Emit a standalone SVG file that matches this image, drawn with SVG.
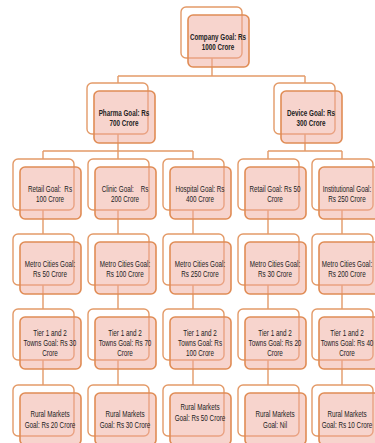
<svg xmlns="http://www.w3.org/2000/svg" width="375" height="443" viewBox="0 0 375 443">
  <style>
    .back { fill: #ffffff; stroke: #E39A68; stroke-width: 1.4; }
    .front { fill: #F0A99C; fill-opacity: 0.5; stroke: #E08C55; stroke-width: 1.6; }
    .link { fill: none; stroke: #E39A68; stroke-width: 1.4; }
    text { font-family: "Liberation Sans", Arial, sans-serif; font-size: 8.4px; fill: #222222; text-anchor: middle;
           transform-box: fill-box; transform-origin: center; transform: scaleX(0.75); }
    .b { font-weight: bold; }
  </style>
  <defs>
    <g id="card">
      <rect class="back" x="0" y="0" width="61" height="51" rx="5"/>
      <rect class="front" x="7" y="8" width="61" height="52" rx="5"/>
    </g>
  </defs>

  <!-- connectors -->
  <g id="connectors">
    <path class="link" d="M212 58V76M118 76H305M118 76V83M305 76V83"/>
    <path class="link" d="M118 134V151M43 151H193M43 151V159M118 151V159M193 151V159"/>
    <path class="link" d="M305 134V151M268 151H342M268 151V159M342 151V159"/>
    <path class="link" d="M43 210V234M43 285V309M43 360V385"/>
    <path class="link" d="M118 210V234M118 285V309M118 360V385"/>
    <path class="link" d="M193 210V234M193 285V309M193 360V385"/>
    <path class="link" d="M268 210V234M268 285V309M268 360V385"/>
    <path class="link" d="M342 210V234M342 285V309M342 360V385"/>
  </g>

  <!-- level 0 -->
  <g id="company"><use href="#card" x="181" y="7"/>
    <text class="b" x="218" y="40.5">Company Goal: Rs</text><text class="b" x="218" y="50.5">1000 Crore</text></g>

  <!-- level 1 -->
  <g id="pharma"><use href="#card" x="87" y="83"/>
    <text class="b" x="124" y="116.5">Pharma Goal: Rs</text><text class="b" x="124" y="126.5">700 Crore</text></g>
  <g id="device"><use href="#card" x="274" y="83"/>
    <text class="b" x="311" y="116.5">Device Goal: Rs</text><text class="b" x="311" y="126.5">300 Crore</text></g>

  <!-- level 2 -->
  <g id="retail-p"><use href="#card" x="13" y="159"/>
    <text x="50" y="192.5" xml:space="preserve">Retail Goal:  Rs</text><text x="50" y="202.5">100 Crore</text></g>
  <g id="clinic"><use href="#card" x="88" y="159"/>
    <text x="125" y="192.5" xml:space="preserve">Clinic Goal:    Rs</text><text x="125" y="202.5">200 Crore</text></g>
  <g id="hospital"><use href="#card" x="163" y="159"/>
    <text x="200" y="192.5">Hospital Goal: Rs</text><text x="200" y="202.5">400 Crore</text></g>
  <g id="retail-d"><use href="#card" x="238" y="159"/>
    <text x="275" y="192.5">Retail Goal: Rs 50</text><text x="275" y="202.5">Crore</text></g>
  <g id="institutional"><use href="#card" x="312" y="159"/>
    <text x="347" y="192.5">Institutional Goal:</text><text x="347" y="202.5">Rs 250 Crore</text></g>

  <!-- level 3 -->
  <g id="metro-1"><use href="#card" x="13" y="234"/>
    <text x="50" y="267.5">Metro Cities Goal:</text><text x="50" y="277.5">Rs 50 Crore</text></g>
  <g id="metro-2"><use href="#card" x="88" y="234"/>
    <text x="125" y="267.5">Metro Cities Goal:</text><text x="125" y="277.5">Rs 100 Crore</text></g>
  <g id="metro-3"><use href="#card" x="163" y="234"/>
    <text x="200" y="267.5">Metro Cities Goal:</text><text x="200" y="277.5">Rs 250 Crore</text></g>
  <g id="metro-4"><use href="#card" x="238" y="234"/>
    <text x="275" y="267.5">Metro Cities Goal:</text><text x="275" y="277.5">Rs 30 Crore</text></g>
  <g id="metro-5"><use href="#card" x="312" y="234"/>
    <text x="347" y="267.5">Metro Cities Goal:</text><text x="347" y="277.5">Rs 200 Crore</text></g>

  <!-- level 4 -->
  <g id="tier-1"><use href="#card" x="13" y="309"/>
    <text x="50" y="336">Tier 1 and 2</text><text x="50" y="346">Towns Goal: Rs 30</text><text x="50" y="356">Crore</text></g>
  <g id="tier-2"><use href="#card" x="88" y="309"/>
    <text x="125" y="336">Tier 1 and 2</text><text x="125" y="346">Towns Goal: Rs 70</text><text x="125" y="356">Crore</text></g>
  <g id="tier-3"><use href="#card" x="163" y="309"/>
    <text x="200" y="336">Tier 1 and 2</text><text x="200" y="346">Towns Goal: Rs</text><text x="200" y="356">100 Crore</text></g>
  <g id="tier-4"><use href="#card" x="238" y="309"/>
    <text x="275" y="336">Tier 1 and 2</text><text x="275" y="346">Towns Goal: Rs 20</text><text x="275" y="356">Crore</text></g>
  <g id="tier-5"><use href="#card" x="312" y="309"/>
    <text x="347" y="336">Tier 1 and 2</text><text x="347" y="346">Towns Goal: Rs 40</text><text x="347" y="356">Crore</text></g>

  <!-- level 5 -->
  <g id="rural-1"><use href="#card" x="13" y="385"/>
    <text x="50" y="417.5">Rural Markets</text><text x="50" y="428.5">Goal: Rs 20 Crore</text></g>
  <g id="rural-2"><use href="#card" x="88" y="385"/>
    <text x="125" y="417.5">Rural Markets</text><text x="125" y="428.5">Goal: Rs 30 Crore</text></g>
  <g id="rural-3"><use href="#card" x="163" y="385"/>
    <text x="200" y="410.5">Rural Markets</text><text x="200" y="421.5">Goal: Rs 50 Crore</text></g>
  <g id="rural-4"><use href="#card" x="238" y="385"/>
    <text x="275" y="417.5">Rural Markets</text><text x="275" y="428.5">Goal: Nil</text></g>
  <g id="rural-5"><use href="#card" x="312" y="385"/>
    <text x="347" y="417.5">Rural Markets</text><text x="347" y="428.5">Goal: Rs 10 Crore</text></g>
</svg>
